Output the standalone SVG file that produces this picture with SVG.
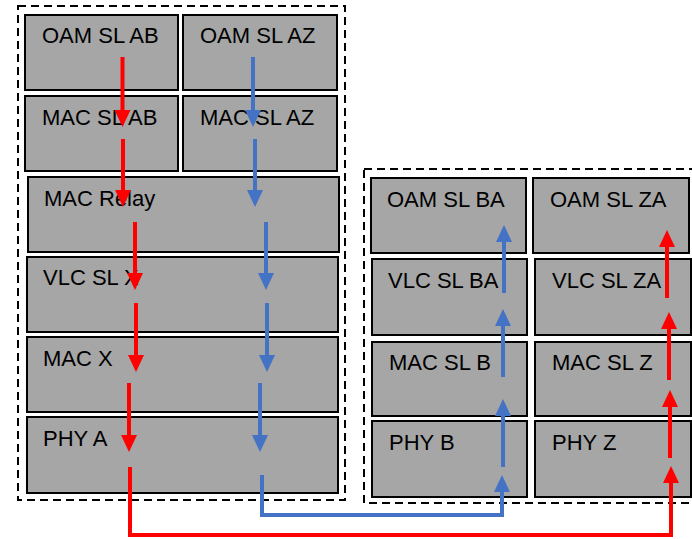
<svg xmlns="http://www.w3.org/2000/svg" width="692" height="539" viewBox="0 0 692 539">
<defs>
<style>
.box{fill:#A6A6A6;stroke:#000;stroke-width:2}
.grp{fill:none;stroke:#000;stroke-width:2;stroke-dasharray:8,5}
.lbl{font-family:"Liberation Sans",Arial,sans-serif;font-size:22px;fill:#000}
.r{stroke:#FF0000;stroke-width:4;fill:none}
.b{stroke:#4472C4;stroke-width:4;fill:none}
.r.a{marker-end:url(#ar)}
.b.a{marker-end:url(#ab)}
</style>
<marker id="ar" markerUnits="userSpaceOnUse" markerWidth="17" markerHeight="16" viewBox="0 0 17 16" refX="0" refY="8" orient="auto"><path d="M0,0 L17,8 L0,16 z" fill="#FF0000"/></marker>
<marker id="ab" markerUnits="userSpaceOnUse" markerWidth="17" markerHeight="16" viewBox="0 0 17 16" refX="0" refY="8" orient="auto"><path d="M0,0 L17,8 L0,16 z" fill="#4472C4"/></marker>
</defs>
<rect class="grp" x="18" y="6" width="327" height="494"/>
<rect class="grp" x="364" y="169" width="340" height="334"/>
<g id="oam-sl-ab"><rect class="box" x="25" y="15" width="153" height="75"/><text class="lbl" x="42" y="43">OAM SL AB</text></g>
<g id="oam-sl-az"><rect class="box" x="183" y="15" width="154" height="75"/><text class="lbl" x="200" y="43">OAM SL AZ</text></g>
<g id="mac-sl-ab"><rect class="box" x="25" y="96" width="153" height="75"/><text class="lbl" x="42" y="125">MAC SL AB</text></g>
<g id="mac-sl-az"><rect class="box" x="183" y="96" width="154" height="75"/><text class="lbl" x="200" y="125">MAC SL AZ</text></g>
<g id="mac-relay"><rect class="box" x="28" y="177" width="311" height="75"/><text class="lbl" x="44" y="206">MAC Relay</text></g>
<g id="vlc-sl-x"><rect class="box" x="27" y="257" width="311" height="75"/><text class="lbl" x="43" y="285">VLC SL X</text></g>
<g id="mac-x"><rect class="box" x="27" y="337" width="311" height="75"/><text class="lbl" x="43" y="366">MAC X</text></g>
<g id="phy-a"><rect class="box" x="27" y="417" width="311" height="76"/><text class="lbl" x="43" y="446">PHY A</text></g>
<g id="oam-sl-ba"><rect class="box" x="371" y="178" width="155" height="75"/><text class="lbl" x="387" y="207">OAM SL BA</text></g>
<g id="oam-sl-za"><rect class="box" x="533" y="178" width="156" height="75"/><text class="lbl" x="550" y="207">OAM SL ZA</text></g>
<g id="vlc-sl-ba"><rect class="box" x="372" y="259" width="155" height="76"/><text class="lbl" x="388" y="288">VLC SL BA</text></g>
<g id="vlc-sl-za"><rect class="box" x="535" y="259" width="156" height="76"/><text class="lbl" x="552" y="288">VLC SL ZA</text></g>
<g id="mac-sl-b"><rect class="box" x="372" y="342" width="155" height="74"/><text class="lbl" x="389" y="370">MAC SL B</text></g>
<g id="mac-sl-z"><rect class="box" x="535" y="342" width="156" height="74"/><text class="lbl" x="552" y="370">MAC SL Z</text></g>
<g id="phy-b"><rect class="box" x="372" y="421" width="155" height="76"/><text class="lbl" x="389" y="450">PHY B</text></g>
<g id="phy-z"><rect class="box" x="535" y="421" width="156" height="76"/><text class="lbl" x="552" y="450">PHY Z</text></g>
<g id="connectors">
<line class="r a" x1="122.5" y1="57" x2="122.5" y2="110"/>
<line class="r a" x1="123" y1="139" x2="123" y2="190"/>
<line class="r a" x1="135" y1="222" x2="135" y2="273"/>
<line class="r a" x1="136" y1="303" x2="136" y2="355"/>
<line class="r a" x1="129" y1="383" x2="129" y2="435"/>
<polyline class="r a" points="130,467 130,535 671,535 671,483"/>
<line class="r a" x1="670" y1="458" x2="670" y2="407"/>
<line class="r a" x1="669" y1="380" x2="669" y2="329"/>
<line class="r a" x1="667" y1="298" x2="667" y2="247"/>
<line class="b a" x1="253" y1="57" x2="253" y2="110"/>
<line class="b a" x1="255" y1="139" x2="255" y2="190"/>
<line class="b a" x1="266" y1="222" x2="266" y2="273"/>
<line class="b a" x1="267" y1="303" x2="267" y2="355"/>
<line class="b a" x1="260" y1="383" x2="260" y2="435"/>
<polyline class="b a" points="262,475 262,515 502,515 502,492"/>
<line class="b a" x1="503" y1="467" x2="503" y2="416"/>
<line class="b a" x1="503" y1="377" x2="503" y2="326"/>
<line class="b a" x1="504" y1="293" x2="504" y2="242"/>
</g>
</svg>
